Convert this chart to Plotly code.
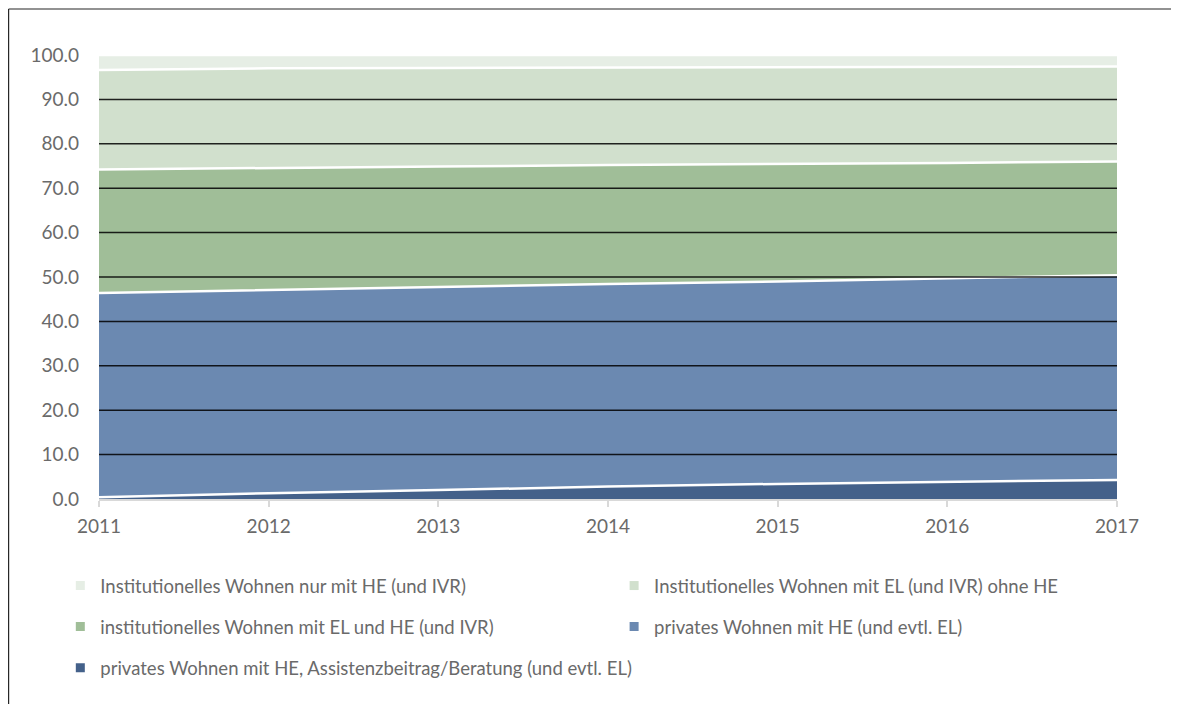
import plotly.graph_objects as go

years = [2011, 2012, 2013, 2014, 2015, 2016, 2017]

# stacked shares (%), bottom to top
privat_assist = [0.4, 1.3, 2.0, 2.8, 3.4, 3.8, 4.3]
privat_he = [46.0, 45.8, 45.7, 45.6, 45.6, 45.9, 46.1]
inst_el_he = [27.8, 27.5, 27.2, 26.8, 26.4, 26.0, 25.6]
inst_el_ohne_he = [22.4, 22.4, 22.2, 22.0, 21.9, 21.6, 21.4]
inst_nur_he = [3.4, 3.0, 2.9, 2.8, 2.7, 2.7, 2.6]

names = [
    "privates Wohnen mit HE, Assistenzbeitrag/Beratung (und evtl. EL)",
    "privates Wohnen mit HE (und evtl. EL)",
    "institutionelles Wohnen mit EL und HE (und IVR)",
    "Institutionelles Wohnen mit EL (und IVR) ohne HE",
    "Institutionelles Wohnen nur mit HE (und IVR)",
]
series = [privat_assist, privat_he, inst_el_he, inst_el_ohne_he, inst_nur_he]
colors = ["#44618A", "#6B89B1", "#A0BE98", "#D1E0CD", "#E6EEE5"]

y_ticks = [0, 10, 20, 30, 40, 50, 60, 70, 80, 90, 100]
grid_vals = [10, 20, 30, 40, 50, 60, 70, 80, 90]

FONT = "Lato"
GRAY = "#6a6a6a"

fig = go.Figure()
for name, vals, col in zip(names, series, colors):
    fig.add_trace(go.Scatter(
        x=years, y=vals, name=name, stackgroup="one", mode="lines",
        line=dict(color="white", width=2.5), fillcolor=col,
        showlegend=False, hoverinfo="x+y+name",
    ))

# legend layout: (legend id, x paper, y paper) per series index
col1_x, col2_x = -0.038, 0.506
row_y = [-0.196, -0.288, -0.381]
legend_pos = {
    4: ("legend", col1_x, row_y[0]),
    3: ("legend2", col2_x, row_y[0]),
    2: ("legend3", col1_x, row_y[1]),
    1: ("legend4", col2_x, row_y[1]),
    0: ("legend5", col1_x, row_y[2]),
}
for idx in [4, 3, 2, 1, 0]:
    fig.add_trace(go.Scatter(
        x=[None], y=[None], mode="markers", name=names[idx],
        marker=dict(symbol="square", size=9, color=colors[idx]),
        legend=legend_pos[idx][0], showlegend=True,
    ))

shapes = []
for v in grid_vals:
    shapes.append(dict(type="line", xref="paper", x0=0, x1=1, yref="y", y0=v, y1=v,
                       line=dict(color="rgba(0,0,0,0.85)", width=1.5), layer="above"))
# outer frame: left and top edges only
fx = -91 / 1018 + 0.0006
fy = 1 + 46 / 444
shapes.append(dict(type="line", xref="paper", yref="paper", x0=fx, x1=fx,
                   y0=-0.6, y1=fy, line=dict(color="#262626", width=1.2), layer="below"))
shapes.append(dict(type="line", xref="paper", yref="paper", x0=fx, x1=1.2,
                   y0=fy, y1=fy, line=dict(color="#262626", width=1.2), layer="below"))

legend_common = dict(orientation="h", xanchor="left", yanchor="middle",
                     font=dict(family=FONT, size=18.5, color=GRAY),
                     itemwidth=30, bgcolor="rgba(0,0,0,0)")

layout_legends = {}
for idx, (lid, lx, ly) in legend_pos.items():
    layout_legends[lid] = dict(x=lx, y=ly, **legend_common)

fig.update_layout(
    width=1179, height=704,
    margin=dict(l=91, r=70, t=47, b=213),
    paper_bgcolor="white", plot_bgcolor="white",
    font=dict(family=FONT, size=18.5, color=GRAY),
    xaxis=dict(range=[2011, 2017], tickvals=years, ticktext=[str(y) for y in years],
               showgrid=False, zeroline=False, showline=True, linecolor="#D9D9D9",
               linewidth=1.5, ticks="outside", ticklen=6, tickcolor="#D9D9D9",
               tickwidth=1.5, ticklabelstandoff=3,
               tickfont=dict(family=FONT, size=19, color=GRAY)),
    yaxis=dict(range=[0, 100], tickvals=y_ticks, tickformat=".1f",
               showgrid=False, zeroline=False, showline=False, ticks="",
               ticklabelstandoff=19,
               tickfont=dict(family=FONT, size=19, color=GRAY)),
    shapes=shapes,
    **layout_legends,
)

fig.write_html("out.html")
